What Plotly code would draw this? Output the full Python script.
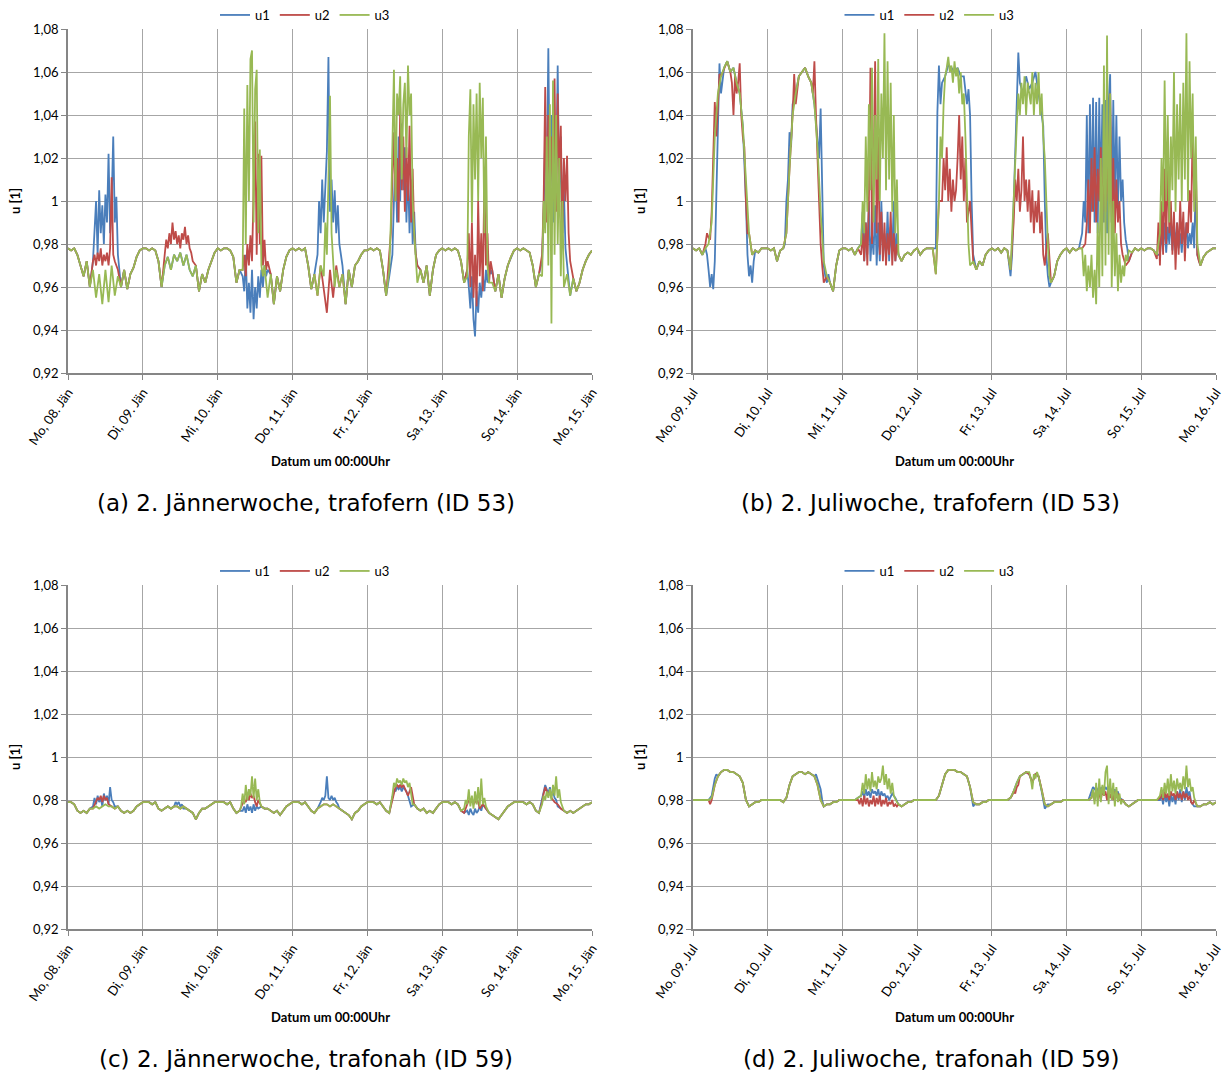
import plotly.graph_objects as go

# ---------------- data (values in 1/1000 p.u.) ----------------
tick_hours = [0, 24, 48, 72, 96, 120, 144, 168]
jan_labels = ["Mo, 08. Jän", "Di, 09. Jän", "Mi, 10. Jän", "Do, 11. Jän",
              "Fr, 12. Jän", "Sa, 13. Jän", "So, 14. Jän", "Mo, 15. Jän"]
jul_labels = ["Mo, 09. Jul", "Di, 10. Jul", "Mi, 11. Jul", "Do, 12. Jul",
              "Fr, 13. Jul", "Sa, 14. Jul", "So, 15. Jul", "Mo, 16. Jul"]
y_ticks = [0.92, 0.94, 0.96, 0.98, 1.0, 1.02, 1.04, 1.06, 1.08]
y_tick_labels = ["0,92", "0,94", "0,96", "0,98", "1", "1,02", "1,04", "1,06", "1,08"]
series_names = ["u1", "u2", "u3"]
captions = ["(a) 2. Jännerwoche, trafofern (ID 53)",
            "(b) 2. Juliwoche, trafofern (ID 53)",
            "(c) 2. Jännerwoche, trafonah (ID 59)",
            "(d) 2. Juliwoche, trafonah (ID 59)"]

# hourly baseline shared by the three phases (hour 0 .. 168)
a_base = [978, 977, 978, 975, 970, 965, 972, 960, 968, 955, 966, 952, 968, 953, 970, 956, 965, 960, 968, 959, 966, 969, 974, 977,
          978, 978, 977, 978, 977, 972, 960, 970, 974, 968, 975, 972, 976, 970, 975, 968, 965, 970, 958, 966, 962, 968, 972, 976,
          978, 977, 978, 978, 977, 974, 962, 968, 960, 970, 964, 972, 966, 970, 962, 968, 955, 966, 952, 965, 958, 968, 974, 977,
          978, 977, 978, 977, 978, 970, 959, 966, 956, 970, 960, 948, 968, 955, 970, 960, 966, 952, 968, 960, 970, 972, 975, 977,
          977, 978, 977, 978, 977, 968, 956, 965, 958, 968, 962, 970, 965, 970, 962, 968, 958, 968, 962, 970, 956, 968, 975, 977,
          978, 977, 978, 977, 978, 977, 972, 962, 970, 962, 968, 960, 970, 964, 968, 960, 962, 958, 966, 955, 964, 970, 974, 977,
          978, 977, 978, 977, 976, 970, 960, 966, 962, 970, 958, 944, 966, 955, 968, 958, 966, 956, 964, 958, 962, 968, 972, 975, 977]
b_base = [978, 977, 978, 975, 978, 980, 990, 1030, 1050, 1058, 1062, 1065, 1060, 1062, 1055, 1050, 1035, 1010, 985, 975, 977, 976, 978, 978,
          978, 977, 978, 972, 977, 978, 985, 1015, 1040, 1050, 1058, 1060, 1062, 1058, 1055, 1045, 1025, 995, 972, 965, 962, 958, 970, 977,
          978, 978, 977, 978, 975, 978, 978, 985, 990, 995, 1000, 1000, 995, 1000, 995, 990, 985, 980, 975, 972, 975, 976, 975, 977,
          978, 975, 977, 978, 978, 978, 966, 1000, 1040, 1058, 1063, 1062, 1060, 1062, 1058, 1055, 1045, 1000, 972, 968, 972, 970, 975, 977,
          978, 977, 978, 976, 978, 977, 968, 1020, 1050, 1055, 1050, 1058, 1052, 1055, 1060, 1050, 1040, 1020, 985, 962, 965, 972, 975, 977,
          978, 976, 978, 977, 978, 978, 985, 990, 985, 975, 990, 980, 995, 985, 990, 980, 985, 975, 980, 970, 972, 976, 978, 977,
          978, 977, 978, 978, 977, 975, 985, 990, 985, 995, 988, 992, 985, 995, 988, 990, 985, 980, 972, 970, 974, 976, 977, 978, 978]
c_base = [979, 979, 978, 975, 974, 975, 974, 976, 976, 977, 976, 977, 978, 977, 977, 976, 977, 975, 974, 975, 974, 975, 977, 978,
          979, 979, 979, 978, 979, 976, 975, 976, 977, 976, 977, 977, 976, 977, 976, 975, 974, 971, 974, 976, 976, 977, 978, 979,
          979, 979, 979, 978, 979, 976, 974, 975, 977, 979, 982, 985, 984, 980, 977, 976, 976, 975, 974, 975, 973, 975, 977, 978,
          979, 979, 979, 978, 979, 977, 975, 974, 976, 977, 978, 978, 977, 978, 977, 976, 975, 974, 973, 971, 974, 975, 977, 978,
          979, 979, 979, 978, 979, 977, 975, 974, 980, 987, 988, 989, 988, 989, 986, 978, 976, 975, 976, 974, 975, 974, 976, 978,
          979, 979, 979, 978, 979, 978, 975, 974, 976, 977, 976, 977, 976, 978, 976, 974, 973, 972, 971, 973, 975, 977, 978, 979,
          979, 979, 979, 978, 979, 978, 975, 974, 977, 978, 978, 980, 979, 978, 976, 975, 974, 975, 974, 975, 976, 977, 978, 978, 979]
d_base = [980, 980, 980, 980, 980, 980, 981, 987, 991, 993, 994, 994, 993, 993, 992, 991, 988, 980, 977, 978, 979, 979, 980, 980,
          980, 980, 980, 980, 980, 979, 981, 987, 991, 992, 993, 993, 992, 993, 992, 991, 987, 980, 977, 978, 978, 979, 979, 980,
          980, 980, 980, 980, 980, 981, 982, 983, 984, 985, 984, 986, 985, 986, 985, 984, 983, 981, 978, 977, 978, 979, 979, 980,
          980, 980, 980, 980, 980, 980, 980, 982, 987, 992, 994, 994, 994, 993, 993, 992, 991, 986, 979, 978, 978, 979, 979, 980,
          980, 980, 980, 980, 980, 980, 981, 984, 988, 991, 992, 993, 992, 988, 992, 991, 985, 978, 977, 978, 979, 979, 979, 980,
          980, 980, 980, 980, 980, 980, 980, 980, 981, 984, 985, 986, 985, 986, 984, 985, 983, 982, 980, 978, 977, 978, 979, 980,
          980, 980, 980, 980, 980, 980, 981, 982, 983, 984, 985, 984, 986, 985, 986, 984, 983, 980, 977, 977, 978, 978, 979, 978, 979]

# per-phase half-hourly detail segments: start hour + values every 0.5 h
a_u1_start = [8, 56, 80, 104, 128, 152]
a_u1_seg = [[972, 990, 1000, 975, 1005, 985, 998, 980, 1003, 990, 1022, 985, 1000, 1030, 990, 1002, 975],
            [965, 958, 975, 950, 962, 948, 968, 945, 960, 950, 965, 955, 968, 960, 970, 965, 968],
            [975, 1000, 985, 1010, 990, 1005, 1023, 1067, 995, 1010, 990, 1005, 985, 998, 980, 975, 970],
            [975, 1000, 1020, 990, 1030, 1000, 1036, 1005, 1025, 990, 1015, 985, 1010, 980, 995, 975, 970],
            [968, 960, 950, 965, 945, 937, 958, 948, 962, 955, 965, 958, 968, 962, 970, 966, 968],
            [972, 995, 1030, 1010, 1071, 1000, 1040, 990, 1025, 1005, 1063, 1000, 1030, 985, 1005, 978, 970]]
a_u2_start = [8, 31, 56, 103, 128, 152]
a_u2_seg = [[972, 975, 970, 976, 972, 978, 970, 975, 972, 976, 970, 978, 1011, 975, 972, 970, 968],
            [975, 982, 978, 985, 980, 990, 982, 986, 980, 984, 978, 985, 982, 988, 980, 984, 978, 976, 972],
            [968, 975, 965, 980, 970, 984, 972, 1010, 1037, 975, 1022, 980, 1021, 970, 982, 968, 972],
            [975, 985, 1010, 1032, 1000, 1020, 990, 1044, 1005, 1030, 995, 1025, 1000, 1035, 990, 1015, 985, 975, 970],
            [968, 985, 960, 990, 955, 975, 951, 1000, 965, 985, 958, 1012, 970, 985, 962, 972, 968],
            [975, 1000, 1053, 990, 1040, 1005, 1030, 1000, 1057, 995, 1050, 1010, 1035, 985, 1020, 1000, 1021, 985, 972]]
a_u3_start = [56, 82, 103, 128, 152]
a_u3_seg = [[968, 1043, 980, 1054, 1000, 1066, 1070, 990, 1052, 1061, 985, 1024, 970, 965, 970],
            [965, 990, 975, 1010, 1049, 985, 970, 960, 968],
            [968, 990, 1030, 1061, 1000, 1050, 1040, 1058, 1010, 1045, 1055, 1020, 1063, 1040, 1050, 1000, 985, 970, 962],
            [965, 1030, 1052, 990, 1045, 1010, 1050, 1000, 1055, 1020, 1048, 985, 1030, 970, 962],
            [965, 1000, 985, 1030, 970, 1045, 943, 1056, 975, 1040, 980, 1020, 965, 1000, 960]]

b_u1_start = [4.5, 17, 29.5, 40, 54, 78, 87, 101.5, 104, 112, 125, 150]
b_u1_seg = [[975, 968, 960, 966, 959, 972, 1000, 1040, 1064, 1050],
            [1000, 975, 965, 970, 962, 972],
            [980, 1000, 1010, 1032, 1025, 1045],
            [1030, 1020, 1043, 1000, 970, 965, 962, 966],
            [980, 995, 972, 990, 975, 1000, 972, 985, 975, 998, 970, 990, 972, 1000, 975, 985, 973, 995, 972, 988, 975, 1000, 972, 985, 975],
            [978, 1041, 1063, 1045, 1055],
            [1058, 1050, 1045, 1052, 1040, 1000, 975],
            [972, 965, 975, 1000],
            [1050, 1069, 1055],
            [1040, 1035, 1000, 975, 965, 960, 962],
            [985, 1000, 990, 1040, 985, 1045, 995, 1048, 990, 1046, 985, 1048, 1000, 1045, 990, 1047, 985, 1045, 1059, 990, 1047, 1000, 1040, 995, 1030, 1000, 1010, 990, 982, 978],
            [975, 985, 978, 990, 976, 988, 980, 992, 977, 986, 982, 990, 978, 985, 976, 988, 980, 990, 978, 985, 980, 990, 978, 1010, 975]]
b_u2_start = [4, 12.5, 32, 38.5, 54, 80, 103, 126, 149]
b_u2_seg = [[980, 985, 983, 982, 995, 1020, 1046, 1030, 1045, 1059],
            [1055, 1040, 1058, 1050, 1055, 1064, 1040, 1030, 1025, 1000, 985],
            [1040, 1059, 1045],
            [1050, 1065, 1040, 1020, 995, 980, 970, 962],
            [975, 985, 972, 990, 970, 1000, 1062, 980, 1010, 1065, 985, 1030, 975, 995, 972, 990, 970, 985, 975, 995, 970, 985, 972, 980, 975],
            [1000, 1020, 1005, 1025, 1000, 1015, 995, 1010, 1000, 1005, 1020, 1040, 1010, 1030, 1000, 1020, 990],
            [990, 1010, 1000, 1015, 995, 1005, 1030, 1000, 1010, 995, 1010, 990, 1005, 985, 1000, 990, 1005, 985, 995, 975, 970],
            [980, 990, 1010, 985, 1020, 995, 1025, 990, 1015, 1000, 1025, 990, 1020, 995, 1015, 1000, 1050, 990, 1020, 985, 1010, 990, 1000, 980, 975, 972, 970],
            [973, 990, 970, 1000, 975, 1015, 980, 1020, 985, 1000, 975, 995, 968, 990, 975, 1000, 980, 995, 972, 990, 985, 1005, 990, 1034, 1000, 1020, 975, 972]]
b_u3_start = [54, 79, 103, 125, 150]
b_u3_seg = [[980, 1000, 985, 1030, 995, 1045, 1005, 1062, 990, 1040, 1010, 1066, 1000, 1050, 1020, 1078, 1005, 1065, 1010, 1055, 995, 1040, 985, 1010, 975],
            [1000, 1030, 1020, 1045, 1058, 1062, 1067, 1060, 1063, 1055, 1065, 1058, 1062, 1050, 1060, 1045, 1050, 1030, 1000, 980, 970],
            [1000, 1020, 1035, 1050, 1040, 1055, 1045, 1058, 1040, 1055, 1050, 1045, 1060, 1040, 1055, 1045, 1060, 1040, 1050, 1030, 1020, 995, 980, 965, 962],
            [978, 965, 975, 958, 970, 960, 975, 955, 968, 952, 990, 960, 1020, 965, 1063, 970, 1077, 975, 1050, 960, 1000, 965, 985, 958, 975, 962, 970, 965, 975, 972, 977],
            [985, 1020, 995, 1056, 1000, 1040, 990, 1030, 1005, 1060, 995, 1045, 1010, 1050, 1000, 1055, 1010, 1078, 1000, 1065, 1020, 1050, 995, 1030, 980, 975]]

c_u1_start = [8, 34, 56, 81, 104, 128, 152]
c_u1_seg = [[977, 981, 978, 982, 979, 981, 977, 983, 980, 982, 978, 986, 980, 979, 977],
            [977, 979, 978, 979, 977, 978, 976],
            [975, 977, 974, 978, 975, 977, 974, 978, 975, 977, 976],
            [979, 981, 980, 982, 991, 981, 980, 982, 980, 981, 979, 978],
            [982, 985, 984, 986, 985, 986, 984, 986, 985, 984, 982, 980, 977],
            [975, 973, 976, 974, 973, 976, 974, 975, 977, 975],
            [980, 984, 987, 985, 983, 986, 982, 984, 981, 980, 977]]
c_u2_start = [9, 56, 104.5, 128, 152]
c_u2_seg = [[979, 981, 980, 982, 979, 982, 980, 981, 978],
            [978, 980, 979, 982, 980, 983, 981, 982, 979, 977],
            [984, 986, 987, 986, 987, 986, 987, 985, 984, 982],
            [978, 980, 979, 980, 978, 979, 980, 979],
            [979, 983, 986, 984, 982, 984, 981, 980]]
c_u3_start = [55.5, 104, 127, 152]
c_u3_seg = [[977, 983, 978, 987, 980, 985, 982, 991, 981, 990, 980, 985, 979, 977],
            [982, 988, 986, 990, 988, 989, 987, 990, 988, 989, 986, 988, 983, 978],
            [976, 980, 978, 985, 977, 982, 976, 984, 978, 986, 977, 990, 978, 981, 977],
            [978, 982, 980, 984, 981, 985, 980, 987, 982, 991, 981, 985, 979, 977]]

d_u1_start = [6, 39.5, 54, 89.5, 112, 128, 150]
d_u1_seg = [[982, 986, 990, 992],
            [992, 990, 988, 985, 980],
            [982, 984, 981, 985, 982, 984, 981, 985, 983, 984, 982, 985, 981, 984, 982, 983, 981, 982, 980],
            [982, 977, 978],
            [984, 980, 976, 977, 978],
            [984, 986, 985, 986, 984, 986, 985, 986, 984, 986, 985, 986, 984, 985, 983, 985, 982, 984, 981],
            [980, 982, 978, 983, 979, 982, 977, 983, 979, 982, 978, 984, 980, 985, 979, 984, 980, 986, 982, 984, 979, 978, 977]]
d_u2_start = [5, 53, 102, 128, 150]
d_u2_seg = [[980, 978, 980],
            [980, 978, 981, 977, 982, 978, 981, 977, 980, 978, 982, 977, 981, 978, 982, 977, 980, 978, 981, 977, 979, 978, 980, 977, 978, 977, 978],
            [981, 982, 984, 983, 986, 987],
            [981, 984, 980, 985, 981, 983, 980, 985, 982, 984, 980, 985, 981, 983, 980, 984, 981, 983, 980],
            [981, 983, 980, 984, 981, 983, 980, 984, 982, 983, 980, 984, 981, 983, 980, 984, 981, 983, 980, 982, 979, 978]]
d_u3_start = [54, 108, 128, 150]
d_u3_seg = [[982, 988, 983, 992, 985, 990, 984, 993, 986, 989, 985, 991, 988, 990, 996, 987, 992, 985, 990, 983, 988, 982, 980, 979],
            [993, 990, 985, 992, 990, 993],
            [981, 985, 978, 988, 977, 990, 979, 987, 982, 993, 996, 978, 990, 980, 988, 977, 986, 979, 983, 978],
            [982, 986, 981, 988, 983, 990, 982, 992, 984, 989, 983, 990, 985, 988, 984, 991, 985, 996, 986, 990, 984, 986, 981, 979]]


def build(base, starts, segs):
    spans = [(s, s + 0.5 * (len(v) - 1)) for s, v in zip(starts, segs)]
    pts = [(h, v) for h, v in enumerate(base)
           if not any(lo <= h <= hi for lo, hi in spans)]
    for s, vals in zip(starts, segs):
        for i, v in enumerate(vals):
            pts.append((s + 0.5 * i, v))
    pts.sort()
    return [p[0] for p in pts], [p[1] / 1000.0 for p in pts]


panels = [
    (a_base, [(a_u1_start, a_u1_seg), (a_u2_start, a_u2_seg), (a_u3_start, a_u3_seg)], jan_labels),
    (b_base, [(b_u1_start, b_u1_seg), (b_u2_start, b_u2_seg), (b_u3_start, b_u3_seg)], jul_labels),
    (c_base, [(c_u1_start, c_u1_seg), (c_u2_start, c_u2_seg), (c_u3_start, c_u3_seg)], jan_labels),
    (d_base, [(d_u1_start, d_u1_seg), (d_u2_start, d_u2_seg), (d_u3_start, d_u3_seg)], jul_labels),
]

# ---------------- styling ----------------
W, H = 1223, 1075
colors = ["#4A7EBB", "#BE4B48", "#98B954"]
FONT = "Lato, Open Sans, sans-serif"
px_x = [(68, 592), (693, 1216), (68, 592), (693, 1216)]
px_y = [(29, 373), (29, 373), (585, 929), (585, 929)]

fig = go.Figure()
layout = dict(width=W, height=H, margin=dict(l=0, r=0, t=0, b=0, autoexpand=False),
              paper_bgcolor="white", plot_bgcolor="white", autosize=False,
              font=dict(family=FONT, size=13, color="#000000"),
              annotations=[])


def ann(text, xpx, ypx, size, family=FONT, angle=0):
    return dict(text=text, x=xpx / W, y=1 - ypx / H, xref="paper", yref="paper",
                xanchor="center", yanchor="middle", showarrow=False, textangle=angle,
                font=dict(family=family, size=size, color="#000000"))


for k, (base, series, xlabels) in enumerate(panels):
    sfx = "" if k == 0 else str(k + 1)
    leg = "legend" if k == 0 else "legend" + str(k + 1)
    for j, (starts, segs) in enumerate(series):
        xs, ys = build(base, starts, segs)
        fig.add_trace(go.Scatter(x=xs, y=ys, mode="lines", name=series_names[j],
                                 line=dict(color=colors[j], width=1.8),
                                 xaxis="x" + sfx, yaxis="y" + sfx, legend=leg))
    x0, x1 = px_x[k]
    y0, y1 = px_y[k]
    xd = [x0 / W, x1 / W]
    yd = [1 - y1 / H, 1 - y0 / H]
    layout["xaxis" + sfx] = dict(domain=xd, range=[0, 168], tickvals=tick_hours, ticktext=xlabels,
                                 tickangle=-55, showgrid=True, gridcolor="#A6A6A6", gridwidth=1,
                                 showline=True, linecolor="#868686", linewidth=1.5,
                                 ticks="outside", ticklen=5, tickcolor="#868686",
                                 zeroline=False, anchor="y" + sfx, fixedrange=True, automargin=False,
                                 ticklabeloverflow="allow",
                                 tickfont=dict(family=FONT, size=13))
    layout["yaxis" + sfx] = dict(domain=yd, range=[0.92, 1.08], tickvals=y_ticks, ticktext=y_tick_labels,
                                 showgrid=True, gridcolor="#A6A6A6", gridwidth=1,
                                 showline=True, linecolor="#868686", linewidth=1.5,
                                 ticks="outside", ticklen=5, tickcolor="#868686",
                                 zeroline=False, anchor="x" + sfx, fixedrange=True, automargin=False,
                                 ticklabeloverflow="allow",
                                 tickfont=dict(family=FONT, size=13))
    cx = (x0 + x1) / 2
    layout[leg] = dict(orientation="h", x=(cx - 25) / W, xanchor="center",
                       y=1 - (y0 - 29) / H, yanchor="top",
                       bgcolor="rgba(0,0,0,0)", font=dict(family=FONT, size=13),
                       itemwidth=30, tracegroupgap=0)
    layout["annotations"].append(ann("<b>u [1]</b>", x0 - 53, (y0 + y1) / 2, 13, angle=-90))
    layout["annotations"].append(ann("<b>Datum um 00:00Uhr</b>", cx, y1 + 88, 13))
    layout["annotations"].append(ann(captions[k], cx - 24, y1 + 130, 23, family="DejaVu Sans, sans-serif"))

fig.update_layout(**layout)
fig.write_html("out.html", config={"displayModeBar": False},
               post_script="document.body.style.margin='0px';document.body.style.padding='0px';")
